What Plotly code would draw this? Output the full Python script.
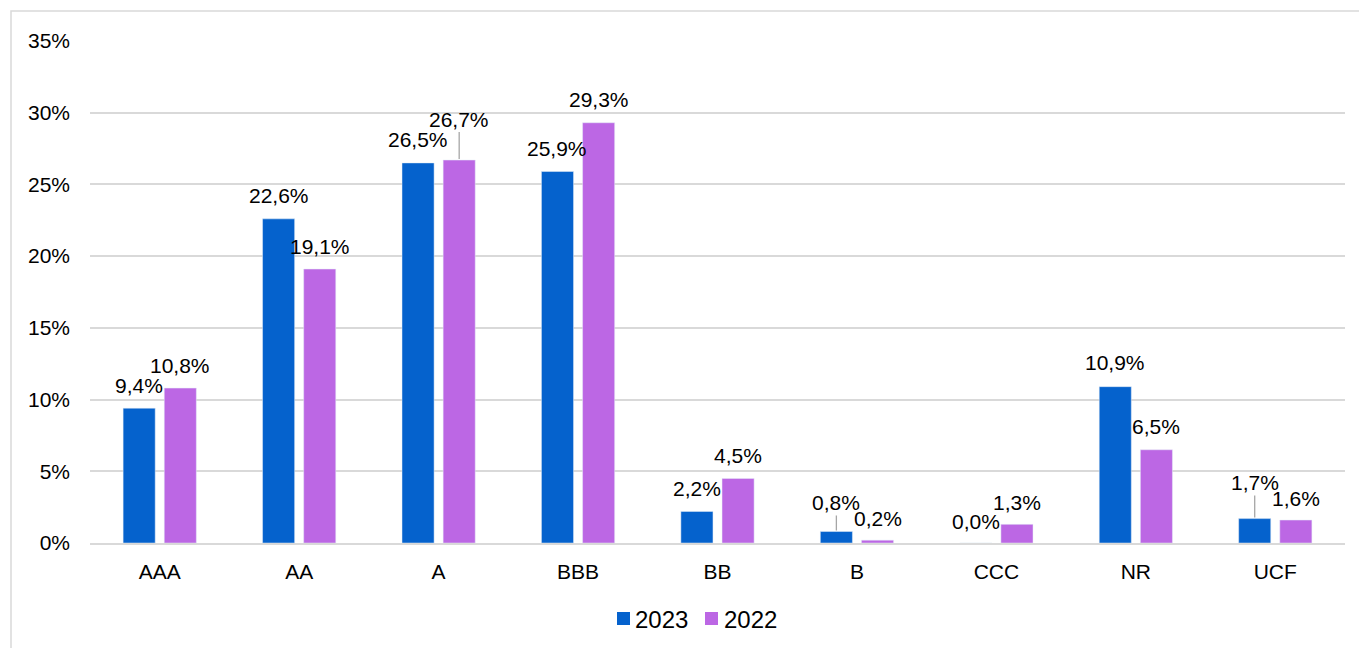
import plotly.graph_objects as go

categories = ["AAA", "AA", "A", "BBB", "BB", "B", "CCC", "NR", "UCF"]
values_2023 = [9.4, 22.6, 26.5, 25.9, 2.2, 0.8, 0.0, 10.9, 1.7]
values_2022 = [10.8, 19.1, 26.7, 29.3, 4.5, 0.2, 1.3, 6.5, 1.6]
series_names = ["2023", "2022"]
y_ticks = [0, 5, 10, 15, 20, 25, 30, 35]

# label placement (pixel offset of label centre above bar top) and leader-line flags
lab_2023_dy = [-23, -23, -23, -23, -23, -29, -22, -24, -36]
lead_2023 = [False, False, False, False, False, True, False, False, True]
lab_2022_dy = [-23, -23, -41, -23, -23, -22, -22, -23, -22]
lead_2022 = [False, False, True, False, False, False, False, False, False]

C23 = "#0562CD"
C22 = "#BC67E4"
FONT = "Liberation Sans, Arial, sans-serif"

def fmt(v):
    return f"{v:.1f}".replace(".", ",") + "%"

fig = go.Figure()
fig.add_trace(go.Bar(name=series_names[0], x=categories, y=values_2023, marker_color=C23,
                     showlegend=False))
fig.add_trace(go.Bar(name=series_names[1], x=categories, y=values_2022, marker_color=C22,
                     showlegend=False))

W, H = 1359, 648
L, T = 90, 41
R = W - 1345
B = H - 543
pw = W - L - R
ph = H - T - B
slot = pw / len(categories)
bargap = 0.41
half = slot * (1 - bargap) / 4

LABEL_SIZE = 21

def px_x(p):
    return (p - L) / pw

def px_y(p):
    return (T + ph - p) / ph

annots = []
for vals, dys, leads, sgn in [
    (values_2023, lab_2023_dy, lead_2023, -1),
    (values_2022, lab_2022_dy, lead_2022, 1),
]:
    for i, (c, v) in enumerate(zip(categories, vals)):
        if leads[i]:
            annots.append(dict(
                x=c, y=v, xref="x", yref="y", xshift=sgn * half,
                text=fmt(v), showarrow=True, arrowhead=0, arrowwidth=1.3,
                arrowcolor="#A6A6A6", ax=0, ay=dys[i], standoff=1,
                font=dict(size=LABEL_SIZE, color="#000000", family=FONT)))
        else:
            annots.append(dict(
                x=c, y=v, xref="x", yref="y", xshift=sgn * half,
                yshift=-dys[i], text=fmt(v), showarrow=False,
                font=dict(size=LABEL_SIZE, color="#000000", family=FONT)))

# outer chart border (right/bottom edges fall outside the window)
shapes = [dict(type="rect", xref="paper", yref="paper",
               x0=px_x(11), x1=px_x(W + 40), y0=px_y(H + 40), y1=px_y(11),
               line=dict(color="#D9D9D9", width=1.5), fillcolor="rgba(0,0,0,0)",
               layer="below")]

# compact legend (square + name), as in the original
leg_sq = [617, 705]
leg_tx = [633, 722]
leg_col = [C23, C22]
for sx, tx, col, name in zip(leg_sq, leg_tx, leg_col, series_names):
    shapes.append(dict(type="rect", xref="paper", yref="paper",
                       x0=px_x(sx), x1=px_x(sx + 13), y0=px_y(625), y1=px_y(612),
                       line=dict(width=0), fillcolor=col))
    annots.append(dict(x=px_x(tx), y=px_y(619), xref="paper", yref="paper",
                       xanchor="left", yanchor="middle", text=name, showarrow=False,
                       font=dict(size=24, color="#000000", family=FONT)))

fig.update_layout(
    width=W, height=H,
    margin=dict(l=L, r=R, t=T, b=B),
    paper_bgcolor="white", plot_bgcolor="white",
    barmode="group", bargap=bargap, bargroupgap=0.22,
    font=dict(family=FONT, size=21, color="#000000"),
    annotations=annots, shapes=shapes,
    showlegend=False,
)
fig.update_xaxes(showgrid=False, showline=True, linecolor="#D9D9D9", linewidth=1.5,
                 ticks="", ticklabelstandoff=9, tickfont=dict(size=21))
fig.update_yaxes(range=[0, 35], tickvals=y_ticks, ticktext=[f"{t}%" for t in y_ticks],
                 showgrid=True, gridcolor="#D9D9D9", gridwidth=1.5, zeroline=False,
                 showline=False, ticks="", ticklabelstandoff=19, tickfont=dict(size=21))

fig.write_html(
    "out.html",
    config={"displayModeBar": False},
    post_script="document.body.style.margin='0';document.body.style.overflow='hidden';"
                "document.documentElement.style.overflow='hidden';",
)
